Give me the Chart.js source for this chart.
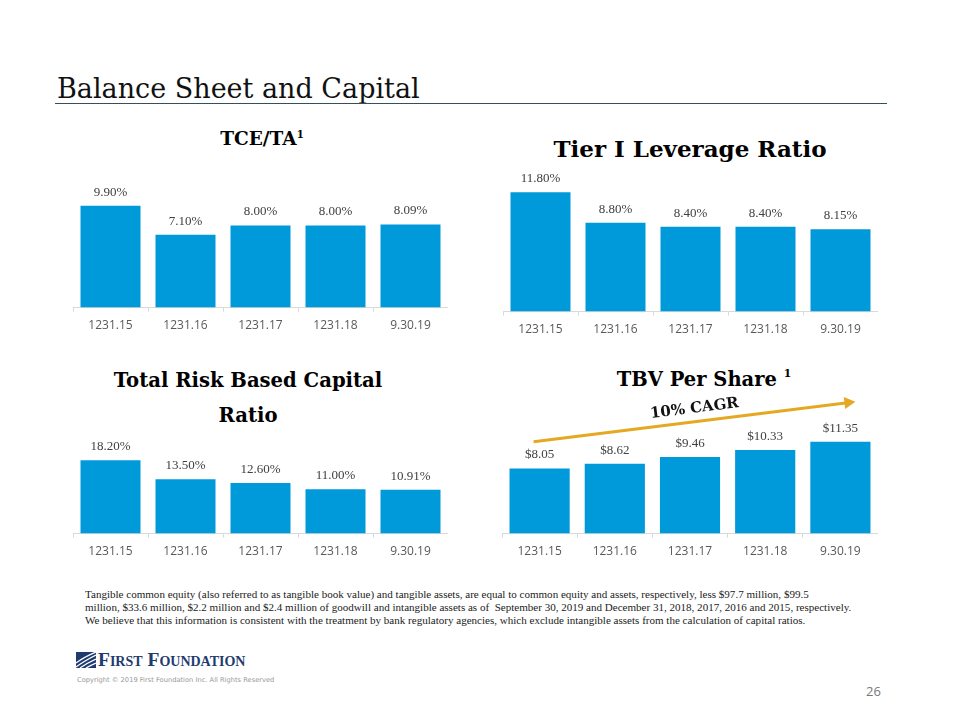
<!DOCTYPE html>
<html>
<head>
<meta charset="utf-8">
<script src="https://cdn.jsdelivr.net/npm/chart.js@4.4.1/dist/chart.umd.min.js"></script>
<style>
body { margin:0; width:960px; height:720px; background:#fff; position:relative; overflow:hidden; }
.abs { position:absolute; }
#title { left:57px; top:75px; font-family:"DejaVu Serif", serif; font-size:27px; line-height:1; color:#111; white-space:nowrap; }
#rule { left:55px; top:103px; width:832px; height:1px; background:#34505f; }
.ctitle { position:absolute; font-family:"DejaVu Serif", serif; font-weight:bold; color:#000; text-align:center; line-height:1; white-space:nowrap; }
.ctitle sup { font-size:55%; vertical-align:top; position:relative; top:-1px; }
canvas { position:absolute; }
#note { left:85px; top:588px; font-family:"Liberation Serif", serif; font-size:11.05px; line-height:13px; color:#222; white-space:nowrap; }
#logo { left:76px; top:650px; color:#1f3b6e; font-family:"Liberation Serif", serif; font-weight:bold; font-size:19.5px; line-height:1; font-variant:small-caps; white-space:nowrap; }
#logo svg { vertical-align:-2px; margin-right:2px; }
#copy { left:77px; top:676px; font-family:"DejaVu Sans", sans-serif; font-size:6.7px; color:#999; white-space:nowrap; }
#page { left:866px; top:682px; font-family:"Open Sans", sans-serif; font-size:13px; color:#777; }
</style>
</head>
<body>
<div id="title" class="abs">Balance Sheet and Capital</div>
<div id="rule" class="abs"></div>

<div class="ctitle" style="left:162px; width:200px; top:130px; font-size:18.5px;">TCE/TA<sup>1</sup></div>
<div class="ctitle" style="left:540px; width:300px; top:137px; font-size:23px;">Tier I Leverage Ratio</div>
<div class="ctitle" style="left:98px; width:300px; top:363px; font-size:19.6px; line-height:35px;">Total Risk Based Capital<br>Ratio</div>
<div class="ctitle" style="left:604px; width:200px; top:370px; font-size:19.5px;">TBV Per Share <sup>1</sup></div>

<canvas id="c1"></canvas>
<canvas id="c2"></canvas>
<canvas id="c3"></canvas>
<canvas id="c4"></canvas>

<div id="note" class="abs">Tangible common equity (also referred to as tangible book value) and tangible assets, are equal to common equity and assets, respectively, less $97.7 million, $99.5<br>million, $33.6 million, $2.2 million and $2.4 million of goodwill and intangible assets as of &nbsp;September 30, 2019 and December 31, 2018, 2017, 2016 and 2015, respectively.<br>We believe that this information is consistent with the treatment by bank regulatory agencies, which exclude intangible assets from the calculation of capital ratios.</div>

<div id="logo" class="abs"><svg width="20" height="16" viewBox="0 0 20 16"><rect width="20" height="16" fill="#1f3b6e"/><path d="M0 15 Q8 9 20 3 M0 11 Q8 5 20 0 M4 16 Q11 11 20 7 M10 16 Q15 13 20 11" stroke="#fff" stroke-width="1.3" fill="none"/></svg>First Foundation</div>
<div id="copy" class="abs">Copyright © 2019 First Foundation Inc. All Rights Reserved</div>
<div id="page" class="abs">26</div>

<script>
var labels = ['1231.15', '1231.16', '1231.17', '1231.18', '9.30.19'];
var tceTa = [9.90, 7.10, 8.00, 8.00, 8.09];
var tier1 = [11.80, 8.80, 8.40, 8.40, 8.15];
var totalRisk = [18.20, 13.50, 12.60, 11.00, 10.91];
var tbvShare = [8.05, 8.62, 9.46, 10.33, 11.35];

var barColor = '#0099da';
var padTop = 24;
var axisH = 32.4;

// value text above each bar
var valueLabels = {
    id: 'valueLabels',
    afterDatasetsDraw: function(chart, args, opts) {
        var ctx = chart.ctx;
        var meta = chart.getDatasetMeta(0);
        var vals = chart.data.datasets[0].data;
        ctx.save();
        ctx.font = '13px "Liberation Serif"';
        ctx.fillStyle = '#404040';
        ctx.textAlign = 'center';
        ctx.textBaseline = 'bottom';
        meta.data.forEach(function(bar, i) {
            ctx.fillText(opts.prefix + vals[i].toFixed(2) + opts.suffix, bar.x, bar.y - 7);
        });
        ctx.restore();
    }
};

// 10% CAGR arrow over the TBV bars
var cagrArrow = {
    id: 'cagrArrow',
    afterDatasetsDraw: function(chart) {
        var xs = chart.scales.x, ys = chart.scales.y;
        var ctx = chart.ctx;
        var x0 = xs.getPixelForValue(0) - 6, y0 = ys.getPixelForValue(11.35);
        var x1 = xs.getPixelForValue(4) + 15, y1 = ys.getPixelForValue(16.3);
        var ang = Math.atan2(y1 - y0, x1 - x0);
        ctx.save();
        ctx.strokeStyle = '#e5a823';
        ctx.fillStyle = '#e5a823';
        ctx.lineWidth = 3;
        ctx.beginPath();
        ctx.moveTo(x0, y0);
        ctx.lineTo(x1 - 8 * Math.cos(ang), y1 - 8 * Math.sin(ang));
        ctx.stroke();
        ctx.translate(x1, y1);
        ctx.rotate(ang);
        ctx.beginPath();
        ctx.moveTo(0, 0);
        ctx.lineTo(-11, -6);
        ctx.lineTo(-11, 6);
        ctx.closePath();
        ctx.fill();
        ctx.restore();

        var mx = x0 + (x1 - x0) * 0.5, my = y0 + (y1 - y0) * 0.5;
        ctx.save();
        ctx.translate(mx, my - 13);
        ctx.rotate(ang);
        ctx.font = 'bold 15px "DejaVu Serif"';
        ctx.fillStyle = '#111';
        ctx.textAlign = 'center';
        ctx.textBaseline = 'middle';
        ctx.fillText('10% CAGR', 0, 0);
        ctx.restore();
    }
};

function makeChart(id, left, baseline, width, areaH, yMax, values, prefix, suffix, extra) {
    var cv = document.getElementById(id);
    var h = Math.round(padTop + areaH + axisH);
    cv.width = width;
    cv.height = h;
    cv.style.left = left + 'px';
    cv.style.top = (baseline - areaH - padTop) + 'px';
    var plugins = [valueLabels];
    if (extra) plugins.push(extra);
    return new Chart(cv, {
        type: 'bar',
        data: {
            labels: labels,
            datasets: [{
                data: values,
                backgroundColor: barColor,
                barPercentage: 0.8,
                categoryPercentage: 1.0
            }]
        },
        plugins: plugins,
        options: {
            responsive: false,
            animation: false,
            devicePixelRatio: 1,
            layout: { padding: { top: padTop, left: 0, right: 0, bottom: 0 } },
            plugins: {
                legend: { display: false },
                tooltip: { enabled: false },
                valueLabels: { prefix: prefix, suffix: suffix }
            },
            scales: {
                x: {
                    grid: { display: true, drawOnChartArea: false, drawTicks: true, tickLength: 4, color: '#d9d9d9' },
                    border: { display: true, color: '#d9d9d9' },
                    ticks: { padding: 7, color: '#595959', font: { family: 'Open Sans', size: 12 } }
                },
                y: { display: false, min: 0, max: yMax }
            }
        }
    });
}

makeChart('c1', 73, 308, 375, 134, 13, tceTa, '', '%');
makeChart('c2', 503, 312, 375, 147, 14.5, tier1, '', '%');
makeChart('c3', 73, 534, 375, 103, 25.5, totalRisk, '', '%');
makeChart('c4', 502, 534, 376, 138, 17, tbvShare, '$', '', cagrArrow);
</script>
</body>
</html>
